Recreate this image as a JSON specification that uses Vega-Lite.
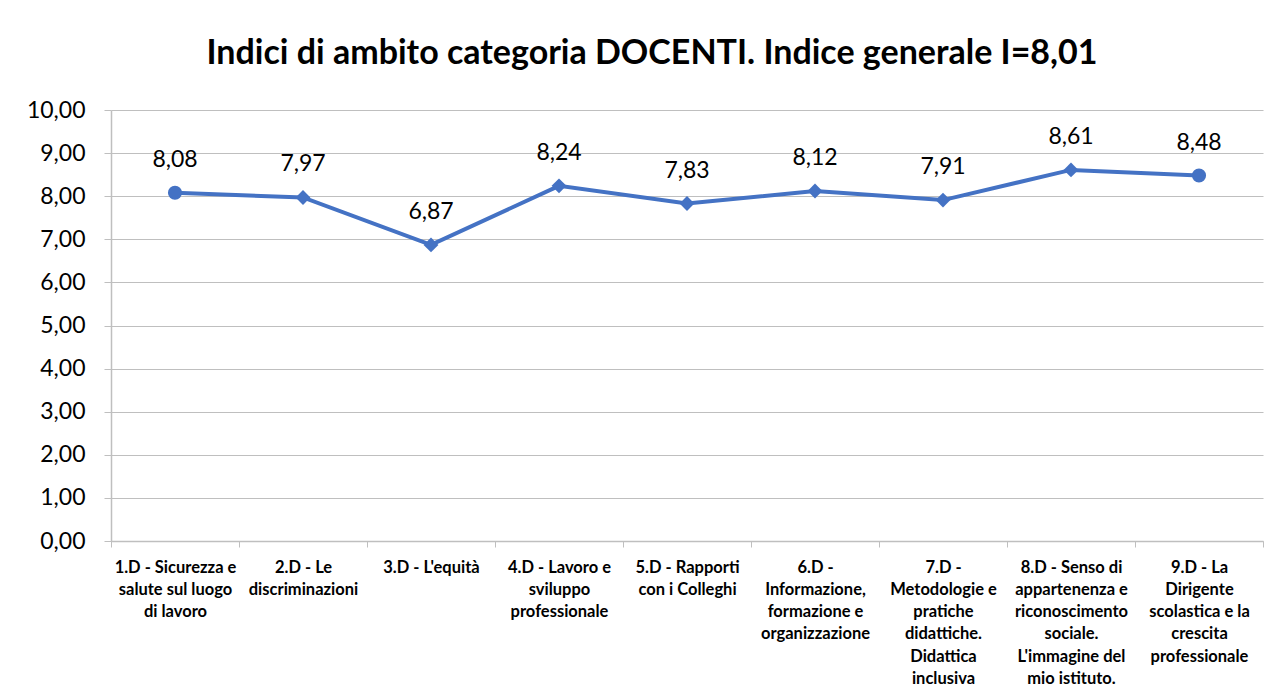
{
  "$schema": "https://vega.github.io/schema/vega-lite/v6.json",
  "width": 1152,
  "height": 431,
  "autosize": {"type": "none"},
  "padding": {"left": 111, "top": 110, "right": 20, "bottom": 159},
  "background": "white",
  "config": {
    "locale": {"number": {"decimal": ",", "thousands": ".", "grouping": [3], "currency": ["", " €"]}},
    "view": {"stroke": null},
    "font": "Lato"
  },
  "title": {
    "text": "Indici di ambito categoria DOCENTI. Indice generale I=8,01",
    "fontSize": 34,
    "fontWeight": "bold",
    "font": "Lato",
    "color": "#000000",
    "anchor": "middle",
    "dx": -35,
    "offset": 28
  },
  "data": {
    "values": [
      {"ambito": "1.D - Sicurezza e|salute sul luogo|di lavoro", "indice": 8.08},
      {"ambito": "2.D - Le|discriminazioni", "indice": 7.97},
      {"ambito": "3.D - L'equità", "indice": 6.87},
      {"ambito": "4.D - Lavoro e|sviluppo|professionale", "indice": 8.24},
      {"ambito": "5.D - Rapporti|con i Colleghi", "indice": 7.83},
      {"ambito": "6.D -|Informazione,|formazione e|organizzazione", "indice": 8.12},
      {"ambito": "7.D -|Metodologie e|pratiche|didattiche.|Didattica|inclusiva", "indice": 7.91},
      {"ambito": "8.D - Senso di|appartenenza e|riconoscimento|sociale.|L'immagine del|mio istituto.", "indice": 8.61},
      {"ambito": "9.D - La|Dirigente|scolastica e la|crescita|professionale", "indice": 8.48}
    ]
  },
  "encoding": {
    "x": {
      "field": "ambito",
      "type": "nominal",
      "sort": null,
      "scale": {"type": "band", "paddingInner": 0, "paddingOuter": 0},
      "axis": {
        "title": null,
        "labelAngle": 0,
        "labelExpr": "isValid(datum.value) ? split(datum.value, '|') : ''",
        "labelFont": "Lato",
        "labelFontSize": 16.5,
        "labelFontWeight": "bold",
        "labelColor": "#000000",
        "labelLineHeight": 22.3,
        "labelPadding": 12,
        "labelBaseline": "top",
        "tickBand": "extent",
        "tickSize": 6,
        "tickColor": "#bfbfbf",
        "domainColor": "#bfbfbf",
        "domainWidth": 1.5,
        "grid": false
      }
    },
    "y": {
      "field": "indice",
      "type": "quantitative",
      "scale": {"domain": [0, 10], "nice": false},
      "axis": {
        "title": null,
        "values": [0, 1, 2, 3, 4, 5, 6, 7, 8, 9, 10],
        "format": ".2f",
        "labelFont": "Lato",
        "labelFontSize": 23,
        "labelColor": "#000000",
        "labelPadding": 19,
        "tickSize": 7,
        "tickColor": "#bfbfbf",
        "domainColor": "#bfbfbf",
        "domainWidth": 1.5,
        "gridColor": "#bfbfbf",
        "gridWidth": 1.2
      }
    }
  },
  "layer": [
    {
      "mark": {"type": "line", "color": "#4472C4", "strokeWidth": 4}
    },
    {
      "mark": {"type": "point", "filled": true, "color": "#4472C4", "opacity": 1},
      "encoding": {
        "shape": {
          "condition": {"test": "datum.indice == 8.08 || datum.indice == 8.48", "value": "circle"},
          "value": "diamond"
        },
        "size": {
          "condition": {"test": "datum.indice == 8.08 || datum.indice == 8.48", "value": 200},
          "value": 220
        }
      }
    },
    {
      "mark": {"type": "text", "dy": -33, "fontSize": 23, "font": "Lato", "color": "#000000"},
      "encoding": {
        "text": {"field": "indice", "type": "quantitative", "format": ".2f"}
      }
    }
  ]
}
